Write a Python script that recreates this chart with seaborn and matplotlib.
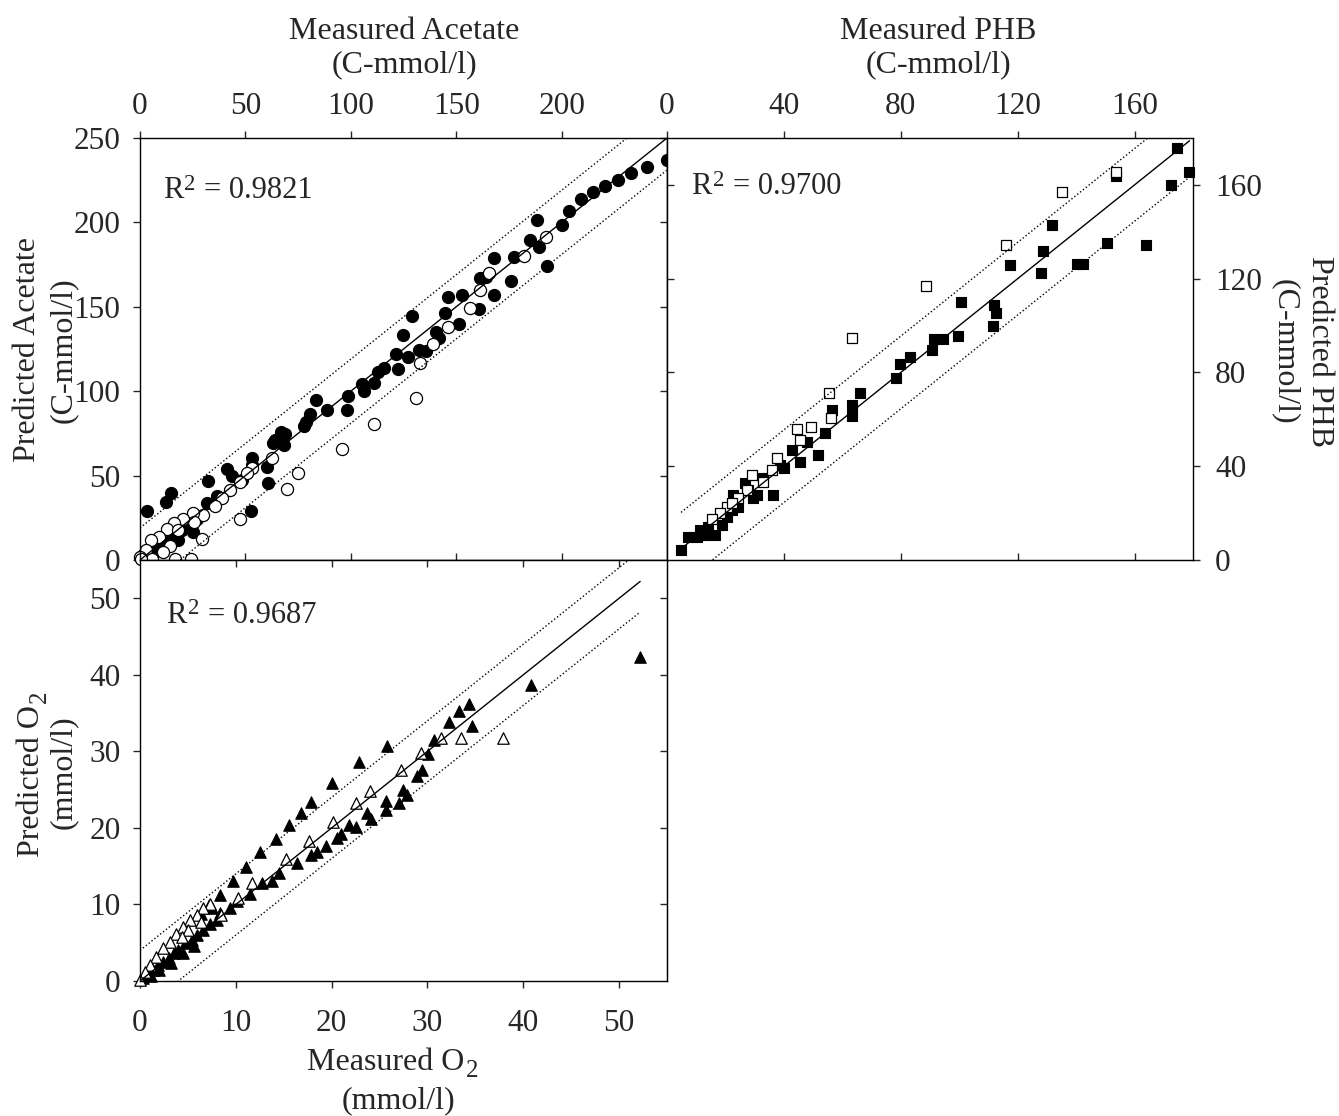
import numpy as np
import seaborn as sns
import matplotlib.pyplot as plt
from matplotlib.transforms import offset_copy

# ---- Acetate (C-mmol/l): measured vs predicted ----
ace_meas_filled = [3.2, 12.2, 14.7, 32.1, 41.4, 43.5, 36.4, 31.6, 25.3, 53.0, 53.3, 60.6, 52.7, 48.2,
                   63.2, 67.2, 1.6, 6.3, 10.3, 15.0, 19.8, 22.9, 18.2, 8.0, 12.5, 27.0, 60.3,
                   63.9, 66.9, 68.9, 68.5, 77.9, 78.7, 80.7, 83.6, 88.5, 98.4, 98.7, 105.2, 106.2,
                   111.1, 112.8, 115.6, 122.6, 121.6, 124.6, 129.2, 127.1, 132.4, 135.7, 140.2, 141.8,
                   144.6, 146.3, 151.1, 152.9, 161.0, 161.5, 164.0, 167.7, 168.0, 176.2, 177.4, 184.8,
                   188.2, 189.4, 193.1, 200.0, 203.3, 209.0, 214.7, 220.5, 226.6, 233.1, 240.5, 250.0]
ace_pred_filled = [29.0, 34.6, 39.9, 47.0, 53.7, 49.8, 37.9, 33.6, 16.8, 60.2, 56.3, 45.8, 29.2, 47.4,
                   69.1, 69.1, 3.0, 4.0, 8.9, 13.8, 17.8, 19.4, 11.8, 6.5, 10.5, 24.0, 55.0,
                   70.9, 75.8, 74.4, 67.9, 79.2, 81.7, 86.7, 95.0, 88.7, 89.1, 97.0, 104.1, 100.2,
                   104.9, 111.4, 113.8, 113.4, 121.9, 133.2, 144.7, 120.3, 124.3, 123.9, 135.2, 131.8,
                   146.1, 156.0, 140.1, 157.0, 148.5, 166.9, 167.9, 178.7, 157.0, 165.5, 179.7, 189.6,
                   201.5, 185.7, 174.2, 198.5, 206.5, 213.8, 218.3, 221.3, 225.3, 229.2, 232.8, 236.7]
ace_meas_open = [75.1, 69.6, 62.5, 53.0, 50.6, 47.4, 42.7, 39.1, 35.6, 30.0, 25.3, 25.8, 20.2, 16.3,
                 13.0, 18.2, 9.0, 5.1, 14.2, 11.1, 2.7, 0.0, 5.5, 16.6, 24.2, 29.3, 47.4, 0.5,
                 95.9, 111.1, 130.8, 132.8, 139.0, 146.2, 156.6, 161.5, 165.6, 182.0, 192.6]
ace_pred_open = [51.4, 41.9, 60.2, 54.3, 51.4, 46.4, 41.5, 36.5, 32.0, 26.7, 28.0, 22.7, 24.1, 21.7,
                 18.4, 17.8, 13.8, 11.8, 8.3, 4.9, 5.9, 2.0, 0.4, 0.4, 0.4, 12.3, 24.1, 0.5,
                 65.5, 80.8, 96.2, 117.0, 127.7, 138.2, 149.0, 159.9, 170.2, 180.1, 191.6]

# ---- PHB (C-mmol/l) ----
phb_meas_filled = [4.8, 7.3, 10.2, 13.0, 16.4, 11.3, 14.1, 18.7, 20.4, 22.1, 24.4, 22.7, 26.7, 27.8,
                   29.5, 30.7, 36.4, 33.0, 38.7, 40.2, 42.7, 45.5, 47.8, 51.8, 54.1, 56.4,
                   63.2, 63.2, 66.1, 78.5, 79.6, 83.2, 90.8, 91.2, 94.4, 99.6, 100.5, 111.4, 112.6,
                   112.0, 117.3, 127.9, 128.5, 131.6, 140.2, 142.4, 150.5, 163.8, 172.4, 174.4,
                   178.8, 153.8]
phb_pred_filled = [4.3, 9.9, 9.9, 10.7, 10.7, 12.8, 14.2, 14.9, 18.5, 21.3, 22.7, 27.7, 32.7, 29.9,
                   26.3, 27.7, 27.7, 34.9, 40.5, 39.1, 46.9, 41.9, 50.5, 44.8, 54.3, 64.0,
                   66.0, 61.3, 71.3, 77.8, 83.8, 86.7, 89.5, 94.1, 94.1, 95.6, 110.2, 99.8, 105.2,
                   108.7, 125.8, 122.6, 132.0, 142.9, 126.1, 126.1, 135.4, 134.4, 160.0, 175.7,
                   165.3, 164.0]
phb_meas_open = [44.4, 49.3, 45.5, 56.1, 37.5, 35.8, 29.2, 33.0, 27.3, 24.4, 20.4, 18.1, 15.3, 22.1,
                 55.5, 63.4, 88.7, 116.1, 135.3, 153.8]
phb_pred_open = [55.8, 56.9, 51.2, 60.5, 43.4, 38.4, 36.3, 33.4, 29.9, 26.3, 22.7, 19.9, 17.4, 24.2,
                 71.3, 94.5, 116.9, 134.4, 156.8, 165.3]

# ---- O2 (mmol/l) ----
o2_meas_filled = [0.3, 0.9, 1.4, 1.9, 2.4, 3.0, 3.5, 4.0, 4.7, 5.4, 5.9, 6.6, 7.3, 8.0, 8.4, 9.4,
                  10.1, 11.5, 12.7, 13.8, 14.5, 7.2, 8.4, 9.7, 11.1, 12.5, 7.5, 6.4, 1.2, 2.0, 3.2,
                  4.5, 5.6,
                  52.2, 40.8, 34.3, 33.3, 32.2, 34.6, 30.7, 30.1, 29.4, 28.9, 27.4, 27.9, 27.0, 25.7,
                  25.7, 25.8, 22.9, 20.0, 23.7, 24.1, 21.8, 22.5, 21.0, 20.6, 19.4, 18.5, 17.8, 17.8,
                  16.8, 15.5, 14.2, 16.4]
o2_pred_filled = [0.4, 1.0, 1.4, 2.1, 2.5, 3.0, 3.6, 4.0, 4.9, 5.4, 6.0, 6.7, 7.5, 8.0, 8.9, 9.5,
                  10.4, 11.4, 12.8, 13.0, 14.1, 9.9, 11.3, 13.0, 14.9, 16.9, 9.5, 8.8, 0.6, 1.4, 2.4,
                  3.6, 4.6,
                  42.3, 38.7, 36.2, 35.3, 33.8, 33.3, 31.5, 29.7, 27.6, 26.8, 25.0, 24.3, 23.3, 23.5,
                  22.4, 30.7, 28.6, 25.9, 21.9, 21.1, 20.4, 20.1, 19.2, 18.7, 17.7, 16.9, 16.4, 23.4,
                  22.0, 20.4, 18.6, 15.4]
o2_meas_open = [15.2, 11.7, 10.2, 7.3, 6.6, 5.9, 5.2, 4.5, 3.8, 3.1, 2.4, 1.7, 1.0, 0.5, 0.0, 6.4,
                5.0, 4.4, 8.5, 37.9, 33.5, 31.4, 29.3, 27.2, 24.0, 22.5, 20.1, 17.6]
o2_pred_open = [16.0, 12.8, 10.8, 10.1, 9.5, 8.6, 8.0, 7.1, 6.2, 5.1, 4.3, 3.2, 2.1, 1.2, 0.1, 7.7,
                6.7, 5.8, 8.6, 31.7, 31.7, 31.7, 29.8, 27.6, 24.8, 23.2, 20.8, 18.3]

r2_values = ["0.9821", "0.9700", "0.9687"]
ace_ticks = [0, 50, 100, 150, 200, 250]
phb_ticks = [0, 40, 80, 120, 160]
o2_ticks = [0, 10, 20, 30, 40, 50]
band_ace, band_phb, band_o2 = 19, 15.5, 4

sns.set_style("ticks")
plt.rcParams['font.family'] = ['Liberation Serif', 'DejaVu Serif']

W, H = 1339, 1116
fig = plt.figure(figsize=(W / 100, H / 100), dpi=100)

def add_ax(l, t, r, b):
    return fig.add_axes([l / W, 1 - b / H, (r - l) / W, (b - t) / H])

ax_ace = add_ax(140, 138, 667, 560)
ax_phb = add_ax(667, 138, 1193, 560)
ax_o2 = add_ax(140, 560, 667, 981)

TFS = 22.5   # tick labels
LFS = 23     # axis titles
TL = 5

def panel(ax, mf, pf, mo, po, marker, size, band, lim):
    sns.scatterplot(x=mf, y=pf, ax=ax, marker=marker, s=size, color='black',
                    edgecolor='black', linewidth=0.8, clip_on=False, zorder=2)
    sns.scatterplot(x=mo, y=po, ax=ax, marker=marker, s=size, color='white',
                    edgecolor='black', linewidth=0.9, clip_on=False, zorder=2)
    xs = np.array([min(mf + mo), max(mf + mo)])
    ax.plot(xs, xs, color='black', lw=1.0, zorder=3)
    ax.plot(xs, xs + band, color='black', lw=1.0, ls=':', zorder=3)
    ax.plot(xs, xs - band, color='black', lw=1.0, ls=':', zorder=3)
    ax.set_xlim(0, lim)
    ax.set_ylim(0, lim)
    ax.set_xlabel('')
    ax.set_ylabel('')
    for s in ax.spines.values():
        s.set_visible(True)
        s.set_linewidth(1.0)
        s.set_color('black')

def mirror(ax, loc, ticks):
    # unlabelled ticks pointing inwards on the opposite side
    if loc in ('top', 'bottom'):
        sec = ax.secondary_xaxis(loc)
        sec.set_xticks(ticks)
    else:
        sec = ax.secondary_yaxis(loc)
        sec.set_yticks(ticks)
    sec.tick_params(direction='in', length=TL, width=1.0, labelbottom=False, labeltop=False,
                    labelleft=False, labelright=False)

panel(ax_ace, ace_meas_filled, ace_pred_filled, ace_meas_open, ace_pred_open, 'o', 76, band_ace, 250)
panel(ax_phb, phb_meas_filled, phb_pred_filled, phb_meas_open, phb_pred_open, 's', 62, band_phb, 180)
panel(ax_o2, o2_meas_filled, o2_pred_filled, o2_meas_open, o2_pred_open, '^', 68, band_o2, 55)

# acetate: labels top / left
ax_ace.xaxis.tick_top()
ax_ace.set_xticks(ace_ticks[:-1])
ax_ace.set_yticks(ace_ticks)
ax_ace.tick_params(axis='x', direction='out', length=TL, width=1.0, labelsize=TFS, pad=7)
ax_ace.tick_params(axis='y', direction='out', length=TL, width=1.0, labelsize=TFS, pad=9)
mirror(ax_ace, 'bottom', ace_ticks[1:-1])
mirror(ax_ace, 'right', ace_ticks[1:])

# PHB: labels top / right
ax_phb.xaxis.tick_top()
ax_phb.yaxis.tick_right()
ax_phb.set_xticks(phb_ticks)
ax_phb.set_yticks(phb_ticks)
ax_phb.tick_params(axis='x', direction='out', length=TL, width=1.0, labelsize=TFS, pad=7)
ax_phb.tick_params(axis='y', direction='out', length=TL, width=1.0, labelsize=TFS, pad=11)
mirror(ax_phb, 'bottom', phb_ticks[1:])
mirror(ax_phb, 'left', phb_ticks[1:])

# O2: labels bottom / left
ax_o2.set_xticks(o2_ticks)
ax_o2.set_yticks(o2_ticks)
ax_o2.tick_params(axis='x', direction='out', length=TL, width=1.0, labelsize=TFS, pad=15)
ax_o2.tick_params(axis='y', direction='out', length=TL, width=1.0, labelsize=TFS, pad=9)
mirror(ax_o2, 'top', o2_ticks[1:])
mirror(ax_o2, 'right', o2_ticks[1:])

# R^2 annotations, with a large raised "2"
def r2_label(ax, tx, ty, value):
    ax.text(tx, ty, 'R', transform=ax.transAxes, fontsize=22, va='baseline')
    t2 = offset_copy(ax.transAxes, fig=fig, x=15.5, y=6, units='points')
    ax.text(tx, ty, '2', transform=t2, fontsize=16.5, va='baseline')
    t3 = offset_copy(ax.transAxes, fig=fig, x=30, y=0, units='points')
    ax.text(tx, ty, '= ' + value, transform=t3, fontsize=22, va='baseline')

r2_label(ax_ace, 0.043, 0.857, r2_values[0])
r2_label(ax_phb, 0.046, 0.867, r2_values[1])
r2_label(ax_o2, 0.050, 0.851, r2_values[2])

def ftext(x, y, s, size=LFS, **kw):
    fig.text(x / W, 1 - y / H, s, fontsize=size, **kw)

ftext(404, 39, 'Measured Acetate', ha='center', va='baseline')
ftext(404, 72, '(C-mmol/l)', ha='center', va='baseline')
ftext(938, 39, 'Measured PHB', ha='center', va='baseline')
ftext(938, 72, '(C-mmol/l)', ha='center', va='baseline')
ftext(28, 350, 'Predicted Acetate', ha='center', va='center', rotation=90)
ftext(63, 350, '(C-mmol/l)', ha='center', va='center', rotation=90)
ftext(1320, 352, 'Predicted PHB', ha='center', va='center', rotation=270)
ftext(1285, 352, '(C-mmol/l)', ha='center', va='center', rotation=270)

# O2 labels with a large lowered "2"
ftext(39, 705, 'Predicted O', ha='right', va='baseline', rotation=90, rotation_mode='anchor')
ftext(46, 703, '2', size=18, ha='left', va='baseline', rotation=90, rotation_mode='anchor')
ftext(63, 772, '(mmol/l)', ha='center', va='center', rotation=90)
ftext(464, 1070, 'Measured O', ha='right', va='baseline')
ftext(466, 1077, '2', size=18, ha='left', va='baseline')
ftext(398, 1108, '(mmol/l)', ha='center', va='baseline')

fig.savefig('out.png', dpi=100, facecolor='white')
